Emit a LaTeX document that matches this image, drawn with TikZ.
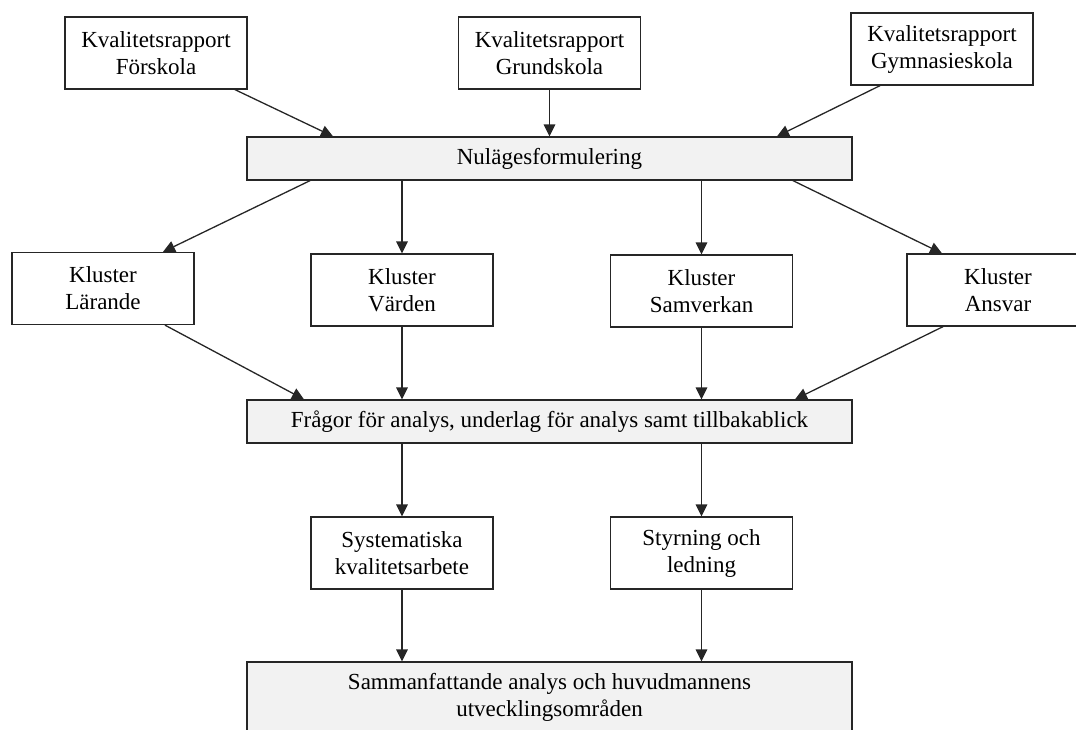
\documentclass[tikz,border=0pt]{standalone}
\usepackage{fontspec}
\setmainfont{Liberation Serif}
\usetikzlibrary{arrows.meta,calc}
\definecolor{boxgray}{HTML}{F2F2F2}
\definecolor{linegray}{HTML}{262626}
\tikzset{
  whitebox/.style={draw=linegray, line width=0.65pt, fill=white, align=center,
    minimum width=91pt, minimum height=36pt, inner sep=0pt,
    font=\fontsize{11.5pt}{13.5pt}\selectfont},
  graybox/.style={whitebox, fill=boxgray, minimum width=302.5pt, minimum height=21.5pt},
  arr/.style={draw=linegray, line width=0.65pt, -{Triangle[length=6pt,width=5.8pt]}}
}
\begin{document}
\begin{tikzpicture}[x=0.5pt,y=-0.5pt]
\useasboundingbox (0,0) rectangle (1076,729);
\clip (0,0) rectangle (1076,729);
% top row
\node[whitebox] (F) at (156,53) {Kvalitetsrapport\\Förskola};
\node[whitebox] (G) at (549.5,53) {Kvalitetsrapport\\Grundskola};
\node[whitebox] (Gy) at (942,49) {Kvalitetsrapport\\Gymnasieskola};
% Nulägesformulering
\node[graybox] (N) at (549.5,158.5) {Nulägesformulering};
% clusters
\node[whitebox] (L) at (103,288.5) {Kluster\\Lärande};
\node[whitebox] (V) at (402,290) {Kluster\\Värden};
\node[whitebox] (S) at (701.5,291) {Kluster\\Samverkan};
\node[whitebox] (A) at (998,290) {Kluster\\Ansvar};
% questions
\node[graybox] (Fr) at (549.5,421.5) {Frågor för analys, underlag för analys samt tillbakablick};
% lower
\node[whitebox] (Sy) at (402,553) {Systematiska\\kvalitetsarbete};
\node[whitebox] (St) at (701.5,553) {Styrning och\\ledning};
% bottom
\node[graybox, minimum height=35.5pt] (B) at (549.5,697.5) {Sammanfattande analys och huvudmannens\\utvecklingsområden};
% arrows
\draw[arr] ($(F.south)+(79,0)$) -- ($(N.north)+(-216.5,0)$);
\draw[arr] (G.south) -- (G.south |- N.north);
\draw[arr] ($(Gy.south)+(-62,0)$) -- ($(N.north)+(227.5,0)$);
\draw[arr] ($(N.south)+(-239.5,0)$) -- ($(L.north)+(60,0)$);
\draw[arr] (V.north |- N.south) -- (V.north);
\draw[arr] (S.north |- N.south) -- (S.north);
\draw[arr] ($(N.south)+(243.5,0)$) -- ($(A.north)+(-56,0)$);
\draw[arr] ($(L.south)+(62,0)$) -- ($(Fr.north)+(-245.5,0)$);
\draw[arr] (V.south) -- (V.south |- Fr.north);
\draw[arr] (S.south) -- (S.south |- Fr.north);
\draw[arr] ($(A.south)+(-55,0)$) -- ($(Fr.north)+(245.5,0)$);
\draw[arr] (Sy.north |- Fr.south) -- (Sy.north);
\draw[arr] (St.north |- Fr.south) -- (St.north);
\draw[arr] (Sy.south) -- (Sy.south |- B.north);
\draw[arr] (St.south) -- (St.south |- B.north);
\end{tikzpicture}
\end{document}
